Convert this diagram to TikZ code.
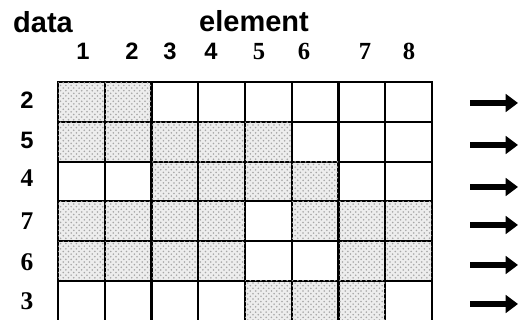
\documentclass[tikz,border=0pt]{standalone}
\usepackage{fontspec}
\setmainfont{Liberation Sans}
\newfontfamily\serifdigits{Liberation Serif}
\usetikzlibrary{arrows.meta,patterns}

\begin{document}
\begin{tikzpicture}[x=0.02cm,y=-0.02cm,
    cell/.style={draw=black,line width=1.2pt,minimum width=0.935cm,
      minimum height=0.796cm,inner sep=0pt,outer sep=0pt},
    shaded/.style={cell,fill=gray!14,
      postaction={pattern=crosshatch dots,pattern color=gray!70}},
    heading/.style={font=\fontsize{16.5}{18}\selectfont\bfseries},
    colnum/.style={anchor=base,font=\fontsize{13.5}{15}\selectfont\bfseries},
    colnumserif/.style={anchor=base,
      font=\fontsize{14}{16}\selectfont\serifdigits\bfseries},
    rownum/.style={anchor=base,font=\fontsize{13.5}{15}\selectfont\bfseries},
    rownumserif/.style={anchor=base,
      font=\fontsize{14.5}{16}\selectfont\serifdigits\bfseries},
    rowarrow/.style={line width=3pt,
      -{Triangle[length=7pt,width=10pt]}}]
  \useasboundingbox (0,0) rectangle (518,320);
  \clip (0,0) rectangle (518,320);

  % headings
  \node[heading] (data) at (43,22) {data};
  \node[heading] (element) at (254,21) {element};

  % element numbers
  \foreach \lab/\x in {1/83,2/132,3/170,4/211}
    \node[colnum] (col\lab) at (\x,60) {\lab};
  \foreach \lab/\x in {5/259,6/304,7/365,8/409}
    \node[colnumserif] (col\lab) at (\x,60) {\lab};

  % grid: row / data value / shaded elements
  \foreach \r/\val/\filled in {1/2/{1,2},2/5/{1,2,3,4,5},3/4/{3,4,5,6},
      4/7/{1,2,3,4,6,7,8},5/6/{1,2,3,4,7,8},6/3/{5,6,7}} {
    \pgfmathsetmacro{\yc}{82+39.8*(\r-0.5)}
    \foreach \c in {1,...,8}
      \node[cell] (cell-\r-\c) at ({58+46.75*(\c-0.5)},\yc) {};
    \foreach \c in \filled
      \node[shaded] at (cell-\r-\c) {};
  }

  % data values
  \foreach \r/\val/\y in {1/2/109,2/5/149}
    \node[rownum] (val\r) at (27,\y) {\val};
  \foreach \r/\val/\y in {3/4/187,4/7/230,5/6/271,6/3/310}
    \node[rownumserif] (val\r) at (27,\y) {\val};

  % output arrows
  \foreach \r/\y in {1/103,2/145,3/187,4/225,5/265,6/304} {
    \coordinate (out\r-s) at (470,\y);
    \coordinate (out\r-e) at (518,\y);
    \draw[rowarrow] (out\r-s) -- (out\r-e);
  }
\end{tikzpicture}
\end{document}
